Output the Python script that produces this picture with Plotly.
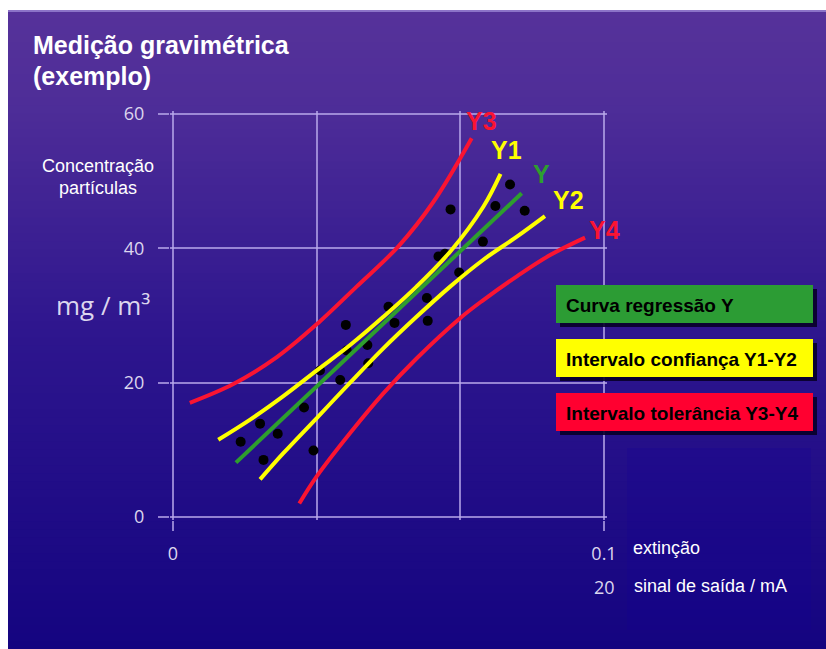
import plotly.graph_objects as go

# ---- data -----------------------------------------------------------------
# gravimetric samples: extinction (x) vs. particle concentration mg/m3 (y)
sample_x = [0.0157, 0.0202, 0.0210, 0.0243, 0.0304, 0.0326, 0.0341, 0.0388,
            0.0401, 0.0403, 0.0451, 0.0453, 0.0500, 0.0514, 0.0589, 0.0591,
            0.0616, 0.0631, 0.0644, 0.0664, 0.0719, 0.0748, 0.0782, 0.0816]
sample_y = [11.2, 13.9, 8.5, 12.4, 16.3, 9.9, 21.8, 20.4,
            28.6, 24.8, 25.6, 22.9, 31.3, 28.9, 32.6, 29.2,
            38.8, 39.2, 45.8, 36.4, 41.0, 46.3, 49.5, 45.6]

# regression line Y
reg_x = [0.0146, 0.0809]
reg_y = [8.1, 48.2]

# confidence interval Y1 (upper) / Y2 (lower)
y1_x = [0.0105, 0.0179, 0.0256, 0.0333, 0.0411, 0.0488, 0.0565, 0.0643, 0.0720, 0.0760]
y1_y = [11.5, 14.5, 18.0, 21.8, 25.6, 29.8, 34.3, 39.5, 46.2, 51.1]
y2_x = [0.0202, 0.0256, 0.0333, 0.0411, 0.0488, 0.0565, 0.0643, 0.0720, 0.0797, 0.0863]
y2_y = [5.6, 9.5, 14.7, 20.0, 25.1, 29.8, 34.3, 38.3, 41.7, 44.8]

# tolerance interval Y3 (upper) / Y4 (lower)
y3_x = [0.0039, 0.0140, 0.0241, 0.0337, 0.0426, 0.0523, 0.0604, 0.0693]
y3_y = [17.0, 19.8, 23.8, 28.9, 34.3, 40.3, 46.9, 56.4]
y4_x = [0.0293, 0.0333, 0.0411, 0.0488, 0.0565, 0.0666, 0.0720, 0.0797, 0.0875, 0.0956]
y4_y = [2.0, 6.0, 12.5, 18.4, 23.6, 29.6, 32.3, 35.8, 39.0, 41.6]

# axis ticks
y_ticks = [0, 20, 40, 60]
x_ticks = [0, 0.1]
x_tick_text = ["0", "0.1"]
x_inner_grid = [0.0333333, 0.0666667]
mA_label = "20"

# colours
RED = "#fa1432"
YEL = "#ffff00"
GRN = "#2e9e2e"

# curve labels: (text, colour, x, y)
curve_labels = [("Y3", RED, 0.0716, 58.9),
                ("Y1", YEL, 0.0774, 54.6),
                ("Y", GRN, 0.0855, 51.1),
                ("Y2", YEL, 0.0917, 47.2),
                ("Y4", RED, 0.1002, 42.7)]

# legend boxes: (text, fill colour)
legend_items = [("Curva regressão Y", "#2c9c34"),
                ("Intervalo confiança Y1-Y2", "#ffff00"),
                ("Intervalo tolerância Y3-Y4", "#ff0030")]

# ---- layout geometry (pixels) ----------------------------------------------
W, H = 826, 649
X0, X1, Y0, Y1 = 173, 604, 517, 114      # pixel positions of x=0, x=0.1, y=0, y=60
XMAX, YMAX = 0.1, 60
PAD = 3                                   # keep edge grid lines inside the plot area
L, R, T, B = X0 - PAD, X1 + PAD, Y1 - PAD, Y0 + PAD
dx = XMAX / (X1 - X0)
dy = YMAX / (Y0 - Y1)
x_range = [-PAD * dx, XMAX + PAD * dx]
y_range = [-PAD * dy, YMAX + PAD * dy]


def fx(px):
    return (px - L) / (R - L)


def fy(py):
    return (B - py) / (B - T)


def data_to_paper(x, y):
    return ((x - x_range[0]) / (x_range[1] - x_range[0]),
            (y - y_range[0]) / (y_range[1] - y_range[0]))


GRID = "rgba(185,170,235,0.75)"
TICKFONT = dict(family="Open Sans, DejaVu Sans, sans-serif", size=18, color="#dcd6ee")

fig = go.Figure()

fig.add_trace(go.Scatter(x=sample_x, y=sample_y, mode="markers",
                         marker=dict(color="black", size=10, line=dict(width=0)),
                         hoverinfo="x+y"))

for xs, ys, col in [(y3_x, y3_y, RED), (y1_x, y1_y, YEL), (reg_x, reg_y, GRN),
                    (y2_x, y2_y, YEL), (y4_x, y4_y, RED)]:
    fig.add_trace(go.Scatter(x=xs, y=ys, mode="lines",
                             line=dict(color=col, width=4, shape="spline", smoothing=1.0)))

# ---- background: vertical purple-to-blue gradient ---------------------------
shapes = []
stops = [(0.0, (86, 50, 154)), (0.15, (78, 45, 152)), (0.5, (46, 22, 142)), (1.0, (20, 4, 128))]


def grad(t):
    for (t0, c0), (t1, c1) in zip(stops[:-1], stops[1:]):
        if t <= t1:
            f = (t - t0) / (t1 - t0)
            return tuple(round(a + (b - a) * f) for a, b in zip(c0, c1))
    return stops[-1][1]


top, bot = 10, H
n = 80
for i in range(n):
    ya = top + (bot - top) * i / n
    yb = top + (bot - top) * (i + 1) / n + 1
    c = grad((i + 0.5) / n)
    shapes.append(dict(type="rect", xref="paper", yref="paper", layer="below",
                       x0=fx(8), x1=fx(W + 2), y0=fy(min(yb, H + 2)), y1=fy(ya),
                       fillcolor="rgb(%d,%d,%d)" % c, line=dict(width=0)))
# thin light edge along the top of the panel
shapes.append(dict(type="rect", xref="paper", yref="paper", layer="below",
                   x0=fx(8), x1=fx(W + 2), y0=fy(12), y1=fy(10),
                   fillcolor="rgb(140,115,200)", line=dict(width=0)))
# faint panel behind the axis captions
shapes.append(dict(type="rect", xref="paper", yref="paper", layer="below",
                   x0=fx(627), x1=fx(811), y0=fy(630), y1=fy(448),
                   fillcolor="rgba(20,0,150,0.22)", line=dict(width=0)))

# ---- legend boxes with drop shadow -------------------------------------------
box_top = [285, 339, 393]
box_h = 38
annotations = []
for (txt, col), t in zip(legend_items, box_top):
    shapes.append(dict(type="rect", xref="paper", yref="paper", layer="above",
                       x0=fx(560), x1=fx(817), y0=fy(t + box_h + 4), y1=fy(t + 4),
                       fillcolor="rgba(8,0,40,0.9)", line=dict(width=0)))
    shapes.append(dict(type="rect", xref="paper", yref="paper", layer="above",
                       x0=fx(556), x1=fx(813), y0=fy(t + box_h), y1=fy(t),
                       fillcolor=col, line=dict(width=0)))
    annotations.append(dict(text="<b>%s</b>" % txt, xref="paper", yref="paper",
                            x=fx(564), y=fy(t + box_h / 2 + 1), xanchor="left", yanchor="middle",
                            showarrow=False,
                            font=dict(family="Arial, Liberation Sans, sans-serif", size=19, color="black")))

# ---- curve labels ------------------------------------------------------------
for txt, col, x, y in curve_labels:
    px_, py_ = data_to_paper(x, y)
    annotations.append(dict(text="<b>%s</b>" % txt, x=px_, y=py_, xref="paper", yref="paper",
                            showarrow=False, xanchor="center", yanchor="middle",
                            font=dict(family="Arial, Liberation Sans, sans-serif", size=25, color=col)))

# ---- captions -------------------------------------------------------------------
white = "white"
annotations += [
    dict(text="<b>Medição gravimétrica</b>", xref="paper", yref="paper", x=fx(31), y=fy(45),
         xanchor="left", yanchor="middle", showarrow=False,
         font=dict(family="Arial, Liberation Sans, sans-serif", size=25, color=white)),
    dict(text="<b>(exemplo)</b>", xref="paper", yref="paper", x=fx(31), y=fy(76),
         xanchor="left", yanchor="middle", showarrow=False,
         font=dict(family="Arial, Liberation Sans, sans-serif", size=25, color=white)),
    dict(text="Concentração", xref="paper", yref="paper", x=fx(98), y=fy(166),
         xanchor="center", yanchor="middle", showarrow=False,
         font=dict(family="Arial, Liberation Sans, sans-serif", size=18, color=white)),
    dict(text="partículas", xref="paper", yref="paper", x=fx(98), y=fy(188),
         xanchor="center", yanchor="middle", showarrow=False,
         font=dict(family="Arial, Liberation Sans, sans-serif", size=18, color=white)),
    dict(text="mg / m³", xref="paper", yref="paper", x=fx(103), y=fy(305),
         xanchor="center", yanchor="middle", showarrow=False,
         font=dict(family="Open Sans, DejaVu Sans, sans-serif", size=26, color="#dcd6ee")),
    dict(text="extinção", xref="paper", yref="paper", x=fx(631), y=fy(548),
         xanchor="left", yanchor="middle", showarrow=False,
         font=dict(family="Arial, Liberation Sans, sans-serif", size=18, color=white)),
    dict(text="sinal de saída / mA", xref="paper", yref="paper", x=fx(632), y=fy(586),
         xanchor="left", yanchor="middle", showarrow=False,
         font=dict(family="Arial, Liberation Sans, sans-serif", size=18, color=white)),
    dict(text=mA_label, xref="x", yref="paper", x=x_ticks[-1], y=fy(587),
         xanchor="center", yanchor="middle", showarrow=False, font=TICKFONT),
]

fig.update_layout(
    width=W, height=H,
    margin=dict(l=L, r=W - R, t=T, b=H - B, pad=0),
    paper_bgcolor="white", plot_bgcolor="rgba(0,0,0,0)",
    showlegend=False,
    shapes=shapes, annotations=annotations,
    xaxis=dict(range=x_range, tickvals=x_ticks, ticktext=x_tick_text,
               showgrid=True, gridcolor=GRID, gridwidth=2,
               ticks="outside", ticklen=530 - B, tickwidth=2, tickcolor=GRID,
               minor=dict(tickvals=x_inner_grid, showgrid=True, gridcolor=GRID, gridwidth=2, ticks=""),
               zeroline=False, showline=False, tickfont=TICKFONT, ticklabelstandoff=7),
    yaxis=dict(range=y_range, tickvals=y_ticks,
               showgrid=True, gridcolor=GRID, gridwidth=2,
               ticks="outside", ticklen=L - 159, tickwidth=2, tickcolor=GRID,
               zeroline=False, showline=False, tickfont=TICKFONT, ticklabelstandoff=10),
)

fig.write_html("out.html")
